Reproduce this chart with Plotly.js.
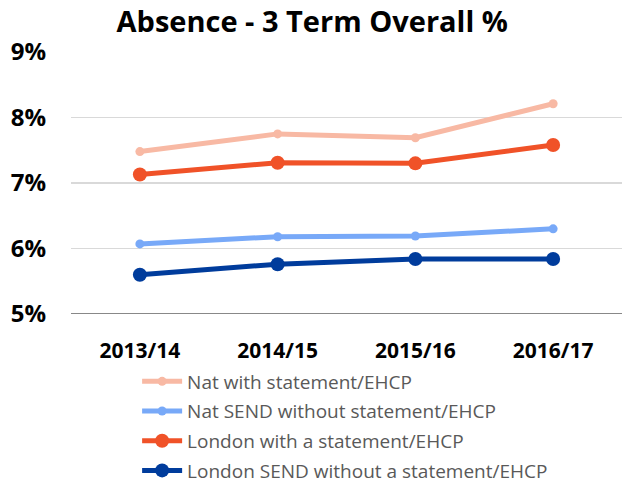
<!DOCTYPE html>
<html>
<head>
<meta charset="utf-8">
<script src="https://cdn.plot.ly/plotly-3.0.1.min.js"></script>
<style>
  html, body { margin: 0; padding: 0; background: #fff; }
  #chart { width: 622px; height: 489px; }
</style>
</head>
<body>
<div id="chart"></div>
<script>
// years along the x axis
var years = ['2013/14', '2014/15', '2015/16', '2016/17'];

// absence % per series
var natWithStatement = [7.48, 7.75, 7.69, 8.21];
var natSendWithout = [6.07, 6.18, 6.19, 6.30];
var londonWithStatement = [7.13, 7.31, 7.30, 7.58];
var londonSendWithout = [5.60, 5.76, 5.84, 5.84];

var seriesNames = [
    'Nat with statement/EHCP',
    'Nat SEND without statement/EHCP',
    'London with a statement/EHCP',
    'London SEND without a statement/EHCP'
];

function makeTrace(name, values, color, markerSize) {
    return {
        x: years,
        y: values,
        name: name,
        legendgroup: name, // own group each, so tracegroupgap spaces the rows
        type: 'scatter',
        mode: 'lines+markers',
        line: { color: color, width: 5 },
        marker: { color: color, size: markerSize },
        cliponaxis: false
    };
}

var data = [
    makeTrace(seriesNames[0], natWithStatement, '#F8B9A4', 9),
    makeTrace(seriesNames[1], natSendWithout, '#78A9F8', 9),
    makeTrace(seriesNames[2], londonWithStatement, '#F05228', 14),
    makeTrace(seriesNames[3], londonSendWithout, '#003C9C', 14)
];

var layout = {
    width: 622,
    height: 489,
    margin: { l: 71, r: 0, t: 52, b: 175, autoexpand: false },
    paper_bgcolor: '#ffffff',
    plot_bgcolor: '#ffffff',
    font: { family: '"Open Sans", "Noto Sans", sans-serif', color: '#000' },
    title: {
        text: '<b>Absence - 3 Term Overall %</b>',
        font: { size: 29, color: '#000' },
        x: 0.502,
        xref: 'container',
        y: 0.955,
        yanchor: 'middle'
    },
    xaxis: {
        type: 'category',
        range: [-0.5, 3.5],
        showgrid: false,
        zeroline: false,
        showline: false,
        ticks: '',
        ticklabelstandoff: 22,
        tickfont: { size: 21, color: '#000', weight: 'bold' },
        fixedrange: true
    },
    yaxis: {
        range: [5, 9],
        dtick: 1,
        ticksuffix: '%',
        showgrid: true,
        gridcolor: '#D9D9D9',
        gridwidth: 1.5,
        zeroline: false,
        showline: false,
        ticks: '',
        ticklabelstandoff: 24,
        tickfont: { size: 24, color: '#000', weight: 'bold' },
        fixedrange: true
    },
    shapes: [{
        type: 'line', xref: 'paper', yref: 'y',
        x0: 0, x1: 1, y0: 5, y1: 5,
        line: { color: '#888888', width: 2 }
    }],
    showlegend: true,
    legend: {
        orientation: 'v',
        x: 0.12,
        xanchor: 'left',
        y: -0.185,
        yanchor: 'top',
        font: { size: 19, color: '#595959' },
        tracegroupgap: 2,
        itemwidth: 40,
        bgcolor: 'rgba(0,0,0,0)'
    }
};

Plotly.newPlot('chart', data, layout, { displayModeBar: false, staticPlot: true });
</script>
</body>
</html>
